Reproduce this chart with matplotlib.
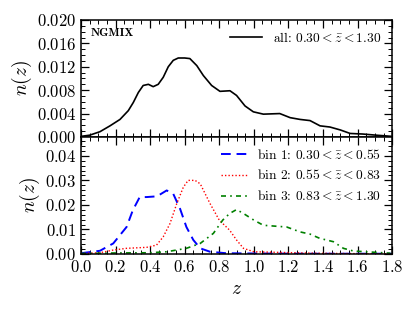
import matplotlib
matplotlib.use("Agg")
import matplotlib.pyplot as plt
from matplotlib.ticker import MultipleLocator

plt.rcParams["font.family"] = "cmr10"
plt.rcParams["mathtext.fontset"] = "cm"
plt.rcParams["axes.formatter.use_mathtext"] = True

# n(z) of the full sample
z_all = [0.0, 0.05, 0.11, 0.168, 0.226, 0.274, 0.303, 0.332, 0.36, 0.39,
         0.418, 0.447, 0.476, 0.505, 0.534, 0.563, 0.60, 0.63, 0.67, 0.708,
         0.756, 0.804, 0.862, 0.90, 0.949, 0.997, 1.055, 1.15, 1.21, 1.267,
         1.325, 1.383, 1.44, 1.50, 1.557, 1.63, 1.71, 1.8]
n_all = [0.0001, 0.0003, 0.0009, 0.0019, 0.0030, 0.0045, 0.0059, 0.0076,
         0.0088, 0.0090, 0.0086, 0.0090, 0.0102, 0.0120, 0.0131, 0.0135,
         0.0135, 0.0134, 0.0122, 0.0105, 0.0088, 0.0078, 0.0079, 0.0071,
         0.0053, 0.0043, 0.0039, 0.0040, 0.0033, 0.0030, 0.0028, 0.0019,
         0.0017, 0.0012, 0.0006, 0.0005, 0.0003, 0.0001]

# tomographic bins
z_b1 = [0.0, 0.11, 0.187, 0.264, 0.30, 0.34, 0.38, 0.44, 0.496, 0.534, 0.573,
        0.61, 0.65, 0.69, 0.747, 0.84, 1.0, 1.3, 1.8]
n_b1 = [0.0003, 0.0013, 0.0043, 0.0110, 0.0178, 0.0232, 0.0232, 0.0235,
        0.0259, 0.0245, 0.0185, 0.0110, 0.0057, 0.0023, 0.0009, 0.0003,
        0.0002, 0.0001, 0.0001]

z_b2 = [0.0, 0.11, 0.187, 0.264, 0.38, 0.437, 0.476, 0.515, 0.554, 0.592,
        0.62, 0.66, 0.69, 0.747, 0.80, 0.86, 0.90, 0.94, 1.0, 1.17, 1.36,
        1.65, 1.8]
n_b2 = [0.0002, 0.0005, 0.0016, 0.0023, 0.0027, 0.0036, 0.0070, 0.0124,
        0.0205, 0.0272, 0.0300, 0.0300, 0.0286, 0.0205, 0.0138, 0.0097,
        0.0057, 0.0023, 0.0009, 0.0006, 0.0003, 0.0001, 0.0001]

z_b3 = [0.0, 0.2, 0.4, 0.496, 0.61, 0.69, 0.766, 0.82, 0.86, 0.90, 0.94, 1.0,
        1.055, 1.13, 1.19, 1.267, 1.325, 1.38, 1.46, 1.518, 1.576, 1.65, 1.79]
n_b3 = [0.0002, 0.0004, 0.0005, 0.0009, 0.0023, 0.0043, 0.0084, 0.0138,
        0.0165, 0.0181, 0.0165, 0.0138, 0.0117, 0.0113, 0.0110, 0.0090,
        0.0081, 0.0064, 0.0050, 0.0023, 0.0012, 0.0009, 0.0003]

labels = [r"bin 1: $0.30 < \bar{z} < 0.55$",
          r"bin 2: $0.55 < \bar{z} < 0.83$",
          r"bin 3: $0.83 < \bar{z} < 1.30$"]


def style_axis(ax):
    ax.tick_params(which="both", direction="in", top=True, right=True,
                   labelsize=12)
    ax.tick_params(which="major", length=6, width=0.9)
    ax.tick_params(which="minor", length=3, width=0.7)
    ax.xaxis.set_major_locator(MultipleLocator(0.2))
    ax.xaxis.set_minor_locator(MultipleLocator(0.05))
    for s in ax.spines.values():
        s.set_linewidth(1.1)


fig = plt.figure(figsize=(4.15, 3.12), dpi=100)
gs = fig.add_gridspec(2, 1, left=0.195, right=0.945, top=0.936, bottom=0.186,
                      hspace=0)
ax1 = fig.add_subplot(gs[0])
ax2 = fig.add_subplot(gs[1], sharex=ax1)

# top panel
ax1.plot(z_all, n_all, color="k", lw=1.2,
         label=r"all: $0.30 < \bar{z} < 1.30$")
ax1.set_xlim(0, 1.8)
ax1.set_ylim(0, 0.020)
ax1.yaxis.set_major_locator(MultipleLocator(0.004))
ax1.yaxis.set_minor_locator(MultipleLocator(0.001))
style_axis(ax1)
ax1.tick_params(labelbottom=False)
ax1.set_ylabel(r"$n(z)$", fontsize=14, labelpad=2)
ax1.text(0.03, 0.93, "NGMIX", transform=ax1.transAxes, fontsize=8.5,
         family="cmb10", va="top", ha="left")
ax1.legend(loc="upper right", frameon=False, fontsize=9.7, handlelength=2.4,
           borderaxespad=0.4)

# bottom panel
ax2.plot(z_b1, n_b1, color="b", ls=(0, (5, 3)), lw=1.4, label=labels[0])
ax2.plot(z_b2, n_b2, color="r", ls=(0, (1, 1.5)), lw=1.0, label=labels[1])
ax2.plot(z_b3, n_b3, color="g", ls=(0, (3, 2.5, 1, 2.5)), lw=1.2,
         label=labels[2])
ax2.set_ylim(0, 0.0477)
ax2.yaxis.set_major_locator(MultipleLocator(0.01))
ax2.yaxis.set_minor_locator(MultipleLocator(0.002))
style_axis(ax2)
ax2.set_xlabel(r"$z$", fontsize=14)
ax2.set_ylabel(r"$n(z)$", fontsize=14, labelpad=2)
ax2.legend(loc="upper right", frameon=False, fontsize=9.7, handlelength=1.9,
           borderaxespad=0.4, labelspacing=0.5)

fig.savefig("out.png", dpi=100)
